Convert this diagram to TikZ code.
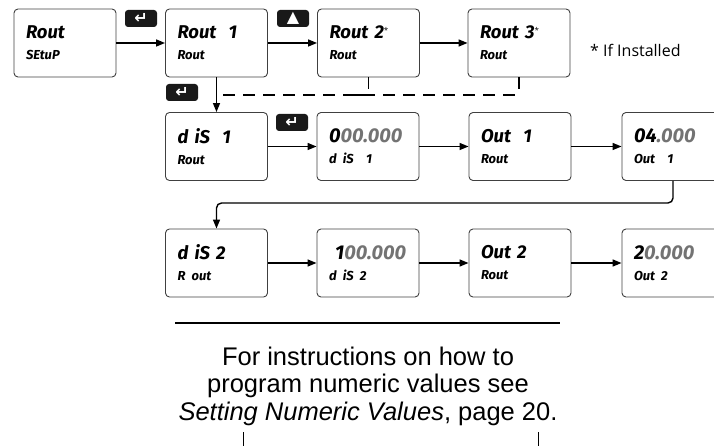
\documentclass[tikz,border=0pt]{standalone}
\usepackage{fontspec}
\setmainfont{Liberation Sans}
\newfontfamily\lcdfont{Fira Sans}
\newfontfamily\notefont{Open Sans}
\newfontfamily\symfont{DejaVu Sans}
\usetikzlibrary{arrows.meta,positioning}

% second line of a display, and the digits that are not being edited
\newcommand\lcdsub[1]{{\fontsize{13}{21}\selectfont #1}}
\newcommand\lcdnum[1]{{\fontsize{20}{21}\selectfont #1}}
\newcommand\lcdgray[1]{\textcolor{black!55}{#1}}
\newcommand\lcdstar{\raisebox{5pt}{\notefont\mdseries\upshape\fontsize{8}{8}\selectfont *}}

\begin{document}
\begin{tikzpicture}[x=1pt, y=-1pt,
    display/.style={draw=black!75, line width=0.9pt, rounded corners=4pt, minimum width=102pt, minimum height=68pt, text width=78pt, inner xsep=12pt, align=left, font=\lcdfont\bfseries\itshape\fontsize{18.5}{21}\selectfont},
    keybox/.style={fill=black!90, rounded corners=3pt, minimum width=32pt, minimum height=17pt, inner sep=0pt, text=white, font=\symfont\bfseries\fontsize{16}{16}\selectfont},
    arrow/.style={-{Triangle[length=9pt,width=7pt]}, line width=1.4pt},
    dashline/.style={dash pattern=on 12pt off 8pt, line width=1.4pt, rounded corners=4pt}
]
\useasboundingbox (0,0) rectangle (714,446);
\clip (0,0) rectangle (714,446);

% top row
\node[display] (setup) at (65,43) {Rout\\\lcdsub{SEtuP}};
\node[display] (rout1) at (216.5,43) {Rout~~1\\\lcdsub{Rout}};
\node[display] (rout2) at (368.5,43) {Rout~2\lcdstar\\\lcdsub{Rout}};
\node[display] (rout3) at (519,43) {Rout~3\lcdstar\\\lcdsub{Rout}};
\node[font=\notefont\fontsize{16}{16}\selectfont, anchor=west, inner sep=0pt] (installed) at (590,50) {* If Installed};

% second row
\node[display] (dis1) at (216.5,146.5) {d iS~~1\\\lcdsub{Rout}};
\node[display] (dval1) at (368,146.5) {\lcdnum{0\lcdgray{00.000}}\\\lcdsub{d iS~~1}};
\node[display] (osel1) at (520,146.5) {Out~~1\\\lcdsub{Rout}};
\node[display] (oval1) at (673,146.5) {\lcdnum{04\lcdgray{.000}}\\\lcdsub{Out~~1}};

% third row
\node[display] (dis2) at (216.5,263) {d iS~2\\\lcdsub{R~out}};
\node[display] (dval2) at (368,263) {\lcdnum{~1\lcdgray{00.000}}\\\lcdsub{d iS~2}};
\node[display] (osel2) at (520,263) {Out~2\\\lcdsub{Rout}};
\node[display] (oval2) at (673,263) {\lcdnum{2\lcdgray{0.000}}\\\lcdsub{Out~2}};

% keys
\node[keybox] (enter1) at (141,18.5) {↵};
\node[keybox] (up1) at (293,18.5) {▲};
\node[keybox] (enter2) at (182,92.5) {↵};
\node[keybox] (enter3) at (292,122.5) {↵};

\coordinate (join) at (216.5,95);
\coordinate (merge) at (352,95);
\coordinate (loop) at (216.5,203);

\draw[arrow] (setup) -- (rout1);
\draw[arrow] (rout1) -- (rout2);
\draw[arrow] (rout2) -- (rout3);
\draw[arrow] (rout1) -- (dis1);
\draw[dashline] (rout3.south) |- (join);
\draw[dashline] (rout2.south) |- (merge);

\draw[arrow] (dis1) -- (dval1);
\draw[arrow] (dval1) -- (osel1);
\draw[arrow] (osel1) -- (oval1);
\draw[arrow, rounded corners=5pt] (oval1.south) |- (loop) -- (dis2.north);

\draw[arrow] (dis2) -- (dval2);
\draw[arrow] (dval2) -- (osel2);
\draw[arrow] (osel2) -- (oval2);

% note at the bottom
\draw[line width=1.4pt] (175,323) -- (560,323);
\draw[line width=1pt] (243,432) -- (243,446);
\draw[line width=1pt] (538,432) -- (538,446);
\node[font=\fontsize{25.5}{27.5}\selectfont, align=center, inner sep=0pt] (note) at (368,386) {For instructions on how to\\program numeric values see\\\textit{Setting Numeric Values}, page 20.};
\end{tikzpicture}
\end{document}
